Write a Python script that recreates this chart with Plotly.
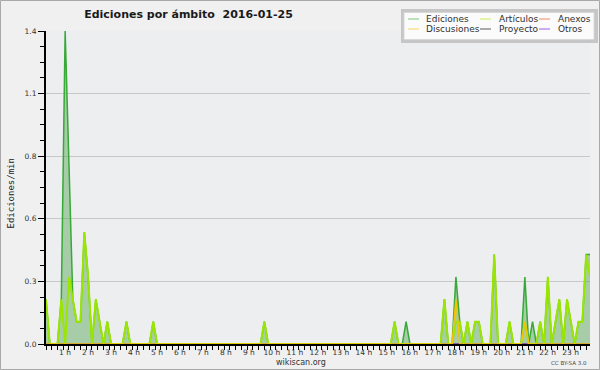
import plotly.graph_objects as go

# ---------------- data (10-minute bins, edits per minute) ----------------
STEP_MIN = 10
hour_labels = [f"{h} h" for h in range(1, 24)]
hour_ticks = [60 * h for h in range(1, 24)]
y_tickvals = [0.0, 0.28, 0.56, 0.84, 1.12, 1.4]
y_ticktext = ["0.0", "0.3", "0.6", "0.8", "1.1", "1.4"]

ediciones = [
    0.2, 0, 0, 0, 0.2, 1.4,      # 0 h
    0.8, 0.2, 0.1, 0.1, 0.5, 0.3,  # 1 h
    0, 0.2, 0.1, 0, 0.1, 0,      # 2 h
    0, 0, 0, 0.1, 0, 0,          # 3 h
    0, 0, 0, 0, 0.1, 0,          # 4 h
    0, 0, 0, 0, 0, 0,            # 5 h
    0, 0, 0, 0, 0, 0,            # 6 h
    0, 0, 0, 0, 0, 0,            # 7 h
    0, 0, 0, 0, 0, 0,            # 8 h
    0, 0, 0, 0.1, 0, 0,          # 9 h
    0, 0, 0, 0, 0, 0,            # 10 h
    0, 0, 0, 0, 0, 0,            # 11 h
    0, 0, 0, 0, 0, 0,            # 12 h
    0, 0, 0, 0, 0, 0,            # 13 h
    0, 0, 0, 0, 0, 0,            # 14 h
    0, 0.1, 0, 0, 0.1, 0,        # 15 h
    0, 0, 0, 0, 0, 0,            # 16 h
    0, 0, 0.2, 0, 0, 0.3,        # 17 h
    0.1, 0, 0.1, 0, 0.1, 0.1,    # 18 h
    0, 0, 0, 0.4, 0, 0,          # 19 h
    0, 0.1, 0, 0, 0, 0.3,        # 20 h
    0, 0.1, 0, 0.1, 0, 0.3,      # 21 h
    0, 0.1, 0.2, 0, 0.2, 0.1,    # 22 h
    0, 0.1, 0.1, 0.4, 0.4,       # 23 h
]
articulos = [
    0.2, 0, 0, 0, 0.2, 0,
    0.3, 0.2, 0.1, 0.1, 0.5, 0.3,
    0, 0.2, 0.1, 0, 0.1, 0,
    0, 0, 0, 0.1, 0, 0,
    0, 0, 0, 0, 0.1, 0,
    0, 0, 0, 0, 0, 0,
    0, 0, 0, 0, 0, 0,
    0, 0, 0, 0, 0, 0,
    0, 0, 0, 0, 0, 0,
    0, 0, 0, 0.1, 0, 0,
    0, 0, 0, 0, 0, 0,
    0, 0, 0, 0, 0, 0,
    0, 0, 0, 0, 0, 0,
    0, 0, 0, 0, 0, 0,
    0, 0, 0, 0, 0, 0,
    0, 0.1, 0, 0, 0, 0,
    0, 0, 0, 0, 0, 0,
    0, 0, 0.2, 0, 0, 0.1,
    0.1, 0, 0.1, 0, 0.1, 0.1,
    0, 0, 0, 0.4, 0, 0,
    0, 0.1, 0, 0, 0, 0.1,
    0, 0, 0, 0.1, 0, 0.3,
    0, 0.1, 0.2, 0, 0.2, 0.1,
    0, 0.1, 0.1, 0.4, 0.3,
]
discusiones = [
    0, 0, 0, 0, 0, 0,  0, 0, 0, 0, 0, 0,  0, 0, 0, 0, 0, 0,  0, 0, 0, 0, 0, 0,
    0, 0, 0, 0, 0, 0,  0, 0, 0, 0, 0, 0,  0, 0, 0, 0, 0, 0,  0, 0, 0, 0, 0, 0,
    0, 0, 0, 0, 0, 0,  0, 0, 0, 0, 0, 0,  0, 0, 0, 0, 0, 0,  0, 0, 0, 0, 0, 0,
    0, 0, 0, 0, 0, 0,  0, 0, 0, 0, 0, 0,  0, 0, 0, 0, 0, 0,  0, 0, 0, 0, 0, 0,
    0, 0, 0, 0, 0, 0,  0, 0, 0, 0, 0, 0.2,  0, 0, 0, 0, 0, 0,  0, 0, 0, 0, 0, 0,
    0, 0, 0, 0, 0, 0.1,  0, 0, 0, 0, 0, 0,  0, 0, 0, 0, 0, 0,  0, 0, 0, 0, 0,
]
anexos = [
    0, 0, 0, 0, 0, 0,  0, 0, 0, 0, 0, 0,  0, 0, 0, 0, 0, 0,  0, 0, 0, 0, 0, 0,
    0, 0, 0, 0, 0, 0,  0, 0, 0, 0, 0, 0,  0, 0, 0, 0, 0, 0,  0, 0, 0, 0, 0, 0,
    0, 0, 0, 0, 0, 0,  0, 0, 0, 0, 0, 0,  0, 0, 0, 0, 0, 0,  0, 0, 0, 0, 0, 0,
    0, 0, 0, 0, 0, 0,  0, 0, 0, 0, 0, 0,  0, 0, 0, 0, 0, 0,  0, 0, 0, 0, 0, 0,
    0, 0, 0, 0, 0, 0,  0, 0, 0, 0, 0, 0,  0, 0, 0, 0, 0, 0,  0, 0, 0, 0, 0, 0,
    0, 0, 0, 0, 0, 0,  0, 0, 0, 0, 0, 0,  0, 0, 0, 0, 0, 0,  0, 0, 0, 0, 0,
]
proyecto = list(anexos)
otros = list(anexos)

minutes = [i * STEP_MIN for i in range(len(ediciones))]

# ---------------- layout helpers (pixel -> paper) ----------------
W, H = 600, 370
L, R, T, B = 46, 590, 31, 344


def px(x):
    return (x - L) / (R - L)


def py(y):
    return (B - y) / (B - T)


FONT = "DejaVu Sans"

fig = go.Figure()

fig.add_trace(go.Scatter(
    x=minutes, y=ediciones, mode="lines", name="Ediciones",
    line=dict(color="#38a838", width=1.5), fill="tozeroy",
    fillcolor="rgba(70,160,70,0.42)", showlegend=False, hoverinfo="skip"))
for vals, col, nm in [(anexos, "#ff6a33", "Anexos"), (proyecto, "#444444", "Proyecto"),
                      (otros, "#8844ee", "Otros")]:
    fig.add_trace(go.Scatter(x=minutes, y=vals, mode="lines", name=nm,
                             line=dict(color=col, width=1), showlegend=False,
                             hoverinfo="skip"))
fig.add_trace(go.Scatter(
    x=minutes, y=articulos, mode="lines", name="Artículos",
    line=dict(color="#9be600", width=2), showlegend=False, hoverinfo="skip"))
fig.add_trace(go.Scatter(
    x=minutes, y=discusiones, mode="lines", name="Discusiones",
    line=dict(color="#f2c400", width=1.5), showlegend=False, hoverinfo="skip"))

shapes = []
annotations = []

# outer border of the picture
shapes.append(dict(type="rect", xref="paper", yref="paper",
                   x0=px(0.5), x1=px(599.5), y0=py(369.5), y1=py(0.5),
                   line=dict(color="#a8a8a8", width=1), fillcolor="rgba(0,0,0,0)",
                   layer="above"))

# legend box
shapes.append(dict(type="rect", xref="paper", yref="paper",
                   x0=px(401), x1=px(598), y0=py(43), y1=py(9),
                   line=dict(width=0), fillcolor="#c6c6c6", layer="above"))
shapes.append(dict(type="rect", xref="paper", yref="paper",
                   x0=px(404), x1=px(594), y0=py(39.5), y1=py(12.5),
                   line=dict(color="#d8d8d8", width=1), fillcolor="#fbfbfb", layer="above"))

legend_items = [
    ("Ediciones", "#7cc87c", 408, 424, 19),
    ("Artículos", "#c8ee5a", 480, 497, 19),
    ("Anexos", "#f08a5c", 539, 556, 19),
    ("Discusiones", "#f4d860", 408, 424, 29),
    ("Proyecto", "#5a5a5a", 480, 497, 29),
    ("Otros", "#9a5cf0", 539, 556, 29),
]
for text, col, lx, tx, yy in legend_items:
    shapes.append(dict(type="line", xref="paper", yref="paper",
                       x0=px(lx), x1=px(lx + 11), y0=py(yy), y1=py(yy),
                       line=dict(color=col, width=1), layer="above"))
    annotations.append(dict(text=text, xref="paper", yref="paper",
                            x=px(tx), y=py(yy), xanchor="left", yanchor="middle",
                            showarrow=False, font=dict(family=FONT, size=9, color="#303030")))

annotations.append(dict(text="Ediciones/min", xref="paper", yref="paper",
                        x=px(10.5), y=py(194), xanchor="center", yanchor="middle",
                        textangle=-90, showarrow=False,
                        font=dict(family="DejaVu Sans Mono", size=9, color="#202020")))
annotations.append(dict(text="wikiscan.org", xref="paper", yref="paper",
                        x=px(300.5), y=py(362), xanchor="center", yanchor="middle",
                        showarrow=False, font=dict(family=FONT, size=8, color="#333333")))
annotations.append(dict(text="CC BY-SA 3.0", xref="paper", yref="paper",
                        x=px(569), y=py(362.5), xanchor="center", yanchor="middle",
                        showarrow=False, font=dict(family=FONT, size=5.5, color="#444444")))

fig.update_layout(
    width=W, height=H,
    margin=dict(l=L, r=W - R, t=T, b=H - B, pad=0),
    paper_bgcolor="#f0f0f0", plot_bgcolor="#eceef0",
    showlegend=False,
    title=dict(text="Ediciones por ámbito\u00a0 2016-01-25", xref="container", yref="container",
               x=188.5 / W, y=1 - 14 / H, xanchor="center", yanchor="middle",
               font=dict(family=FONT, size=11, color="#1a1a1a", weight="bold")),
    shapes=shapes, annotations=annotations,
    xaxis=dict(range=[0, minutes[-1]], tickmode="array", tickvals=hour_ticks,
               ticktext=hour_labels, ticks="outside", ticklen=4, tickwidth=1,
               tickcolor="black", showgrid=False, zeroline=False,
               showline=True, linecolor="black", linewidth=2,
               ticklabelshift=-4, ticklabelstandoff=-4,
               tickfont=dict(family=FONT, size=7.5, color="#333333"),
               minor=dict(ticks="outside", ticklen=4, tickwidth=1, tickcolor="black",
                          tick0=0, dtick=15, showgrid=False),
               fixedrange=True),
    yaxis=dict(range=[0, 1.4], tickmode="array", tickvals=y_tickvals, ticktext=y_ticktext,
               ticks="outside", ticklen=6, tickwidth=1, tickcolor="black",
               showgrid=True, gridcolor="#c8c8c8", gridwidth=1, zeroline=False,
               showline=True, linecolor="black", linewidth=2,
               tickfont=dict(family=FONT, size=7.5, color="#333333"),
               minor=dict(ticks="outside", ticklen=4, tickwidth=1, tickcolor="black",
                          tick0=0, dtick=0.07, showgrid=False),
               fixedrange=True),
)

fig.write_html("out.html")
